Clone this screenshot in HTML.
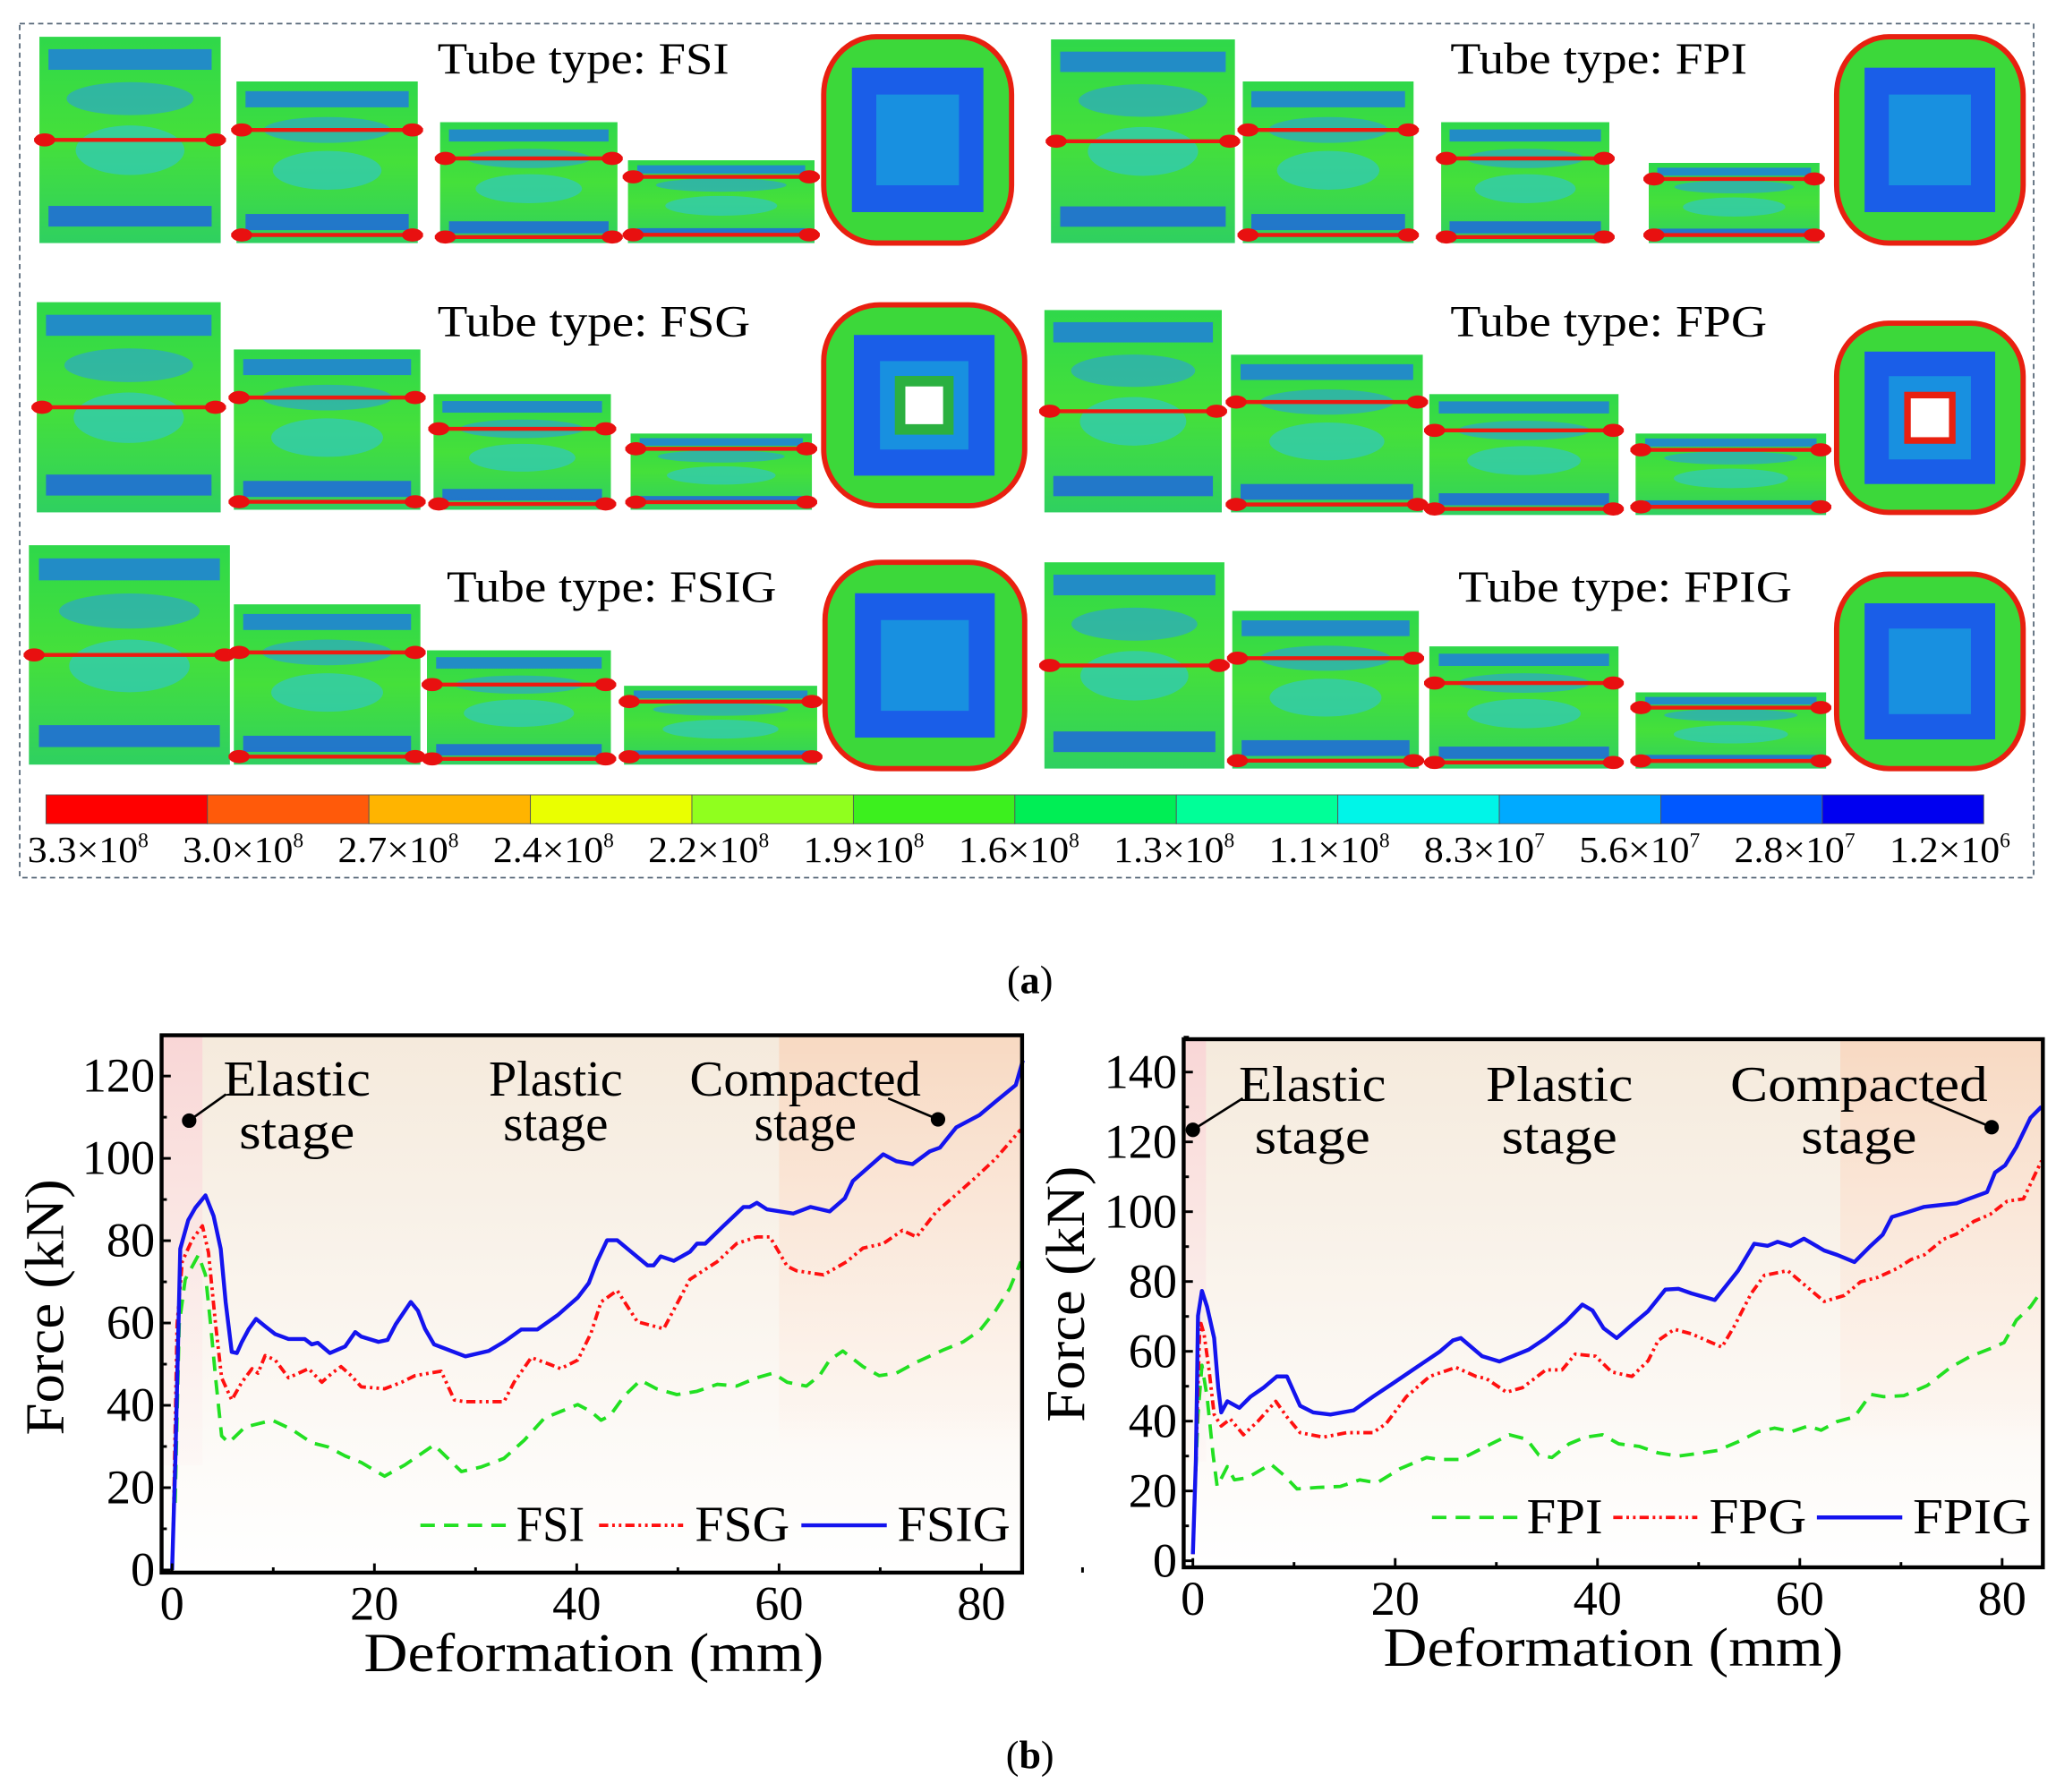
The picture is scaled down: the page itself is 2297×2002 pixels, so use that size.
<!DOCTYPE html>
<html><head><meta charset="utf-8"><style>
html,body{margin:0;padding:0;background:#fff;}
svg{display:block;}
text{font-family:"Liberation Serif",serif;}
</style></head><body>
<svg id="fig" width="2297" height="2002" viewBox="0 0 1565 1364" preserveAspectRatio="none" xmlns="http://www.w3.org/2000/svg">
<defs>
<linearGradient id="bgL" x1="0" y1="0" x2="0" y2="1"><stop offset="0" stop-color="#f5eadc"/><stop offset="1" stop-color="#ffffff"/></linearGradient>
<linearGradient id="compL" x1="0" y1="0" x2="0" y2="1"><stop offset="0" stop-color="#f8d9c2"/><stop offset="0.85" stop-color="#fdf3ec" stop-opacity="0.6"/><stop offset="1" stop-color="#ffffff" stop-opacity="0"/></linearGradient>
<linearGradient id="pinkL" x1="0" y1="0" x2="0" y2="1"><stop offset="0" stop-color="#f9d6d6"/><stop offset="1" stop-color="#fdf0f0" stop-opacity="0.3"/></linearGradient>
<linearGradient id="tubeG" x1="0" y1="0" x2="0" y2="1"><stop offset="0" stop-color="#2fd84a"/><stop offset="0.5" stop-color="#45e03a"/><stop offset="1" stop-color="#2fd060"/></linearGradient>
</defs>
<rect x="15" y="18" width="1533" height="650" fill="none" stroke="#556677" stroke-width="1.2" stroke-dasharray="4,3"/>
<g id="tubes"></g>
<g id="titles">
<text x="333" y="56" font-size="34" textLength="222" lengthAdjust="spacingAndGlyphs">Tube type: FSI</text>
<text x="1104" y="56" font-size="34" textLength="226" lengthAdjust="spacingAndGlyphs">Tube type: FPI</text>
<text x="333" y="256" font-size="34" textLength="238" lengthAdjust="spacingAndGlyphs">Tube type: FSG</text>
<text x="1104" y="256" font-size="34" textLength="241" lengthAdjust="spacingAndGlyphs">Tube type: FPG</text>
<text x="340" y="458" font-size="34" textLength="251" lengthAdjust="spacingAndGlyphs">Tube type: FSIG</text>
<text x="1110" y="458" font-size="34" textLength="254" lengthAdjust="spacingAndGlyphs">Tube type: FPIG</text>
</g>
<g id="cbar"></g>
<text x="784" y="756" font-size="30" text-anchor="middle">(<tspan font-weight="bold">a</tspan>)</text>
<text x="784" y="1346" font-size="30" text-anchor="middle">(<tspan font-weight="bold">b</tspan>)</text>
<g id="chartL"></g>
<g id="chartR"></g>
</svg>
<script>
// ---------------- Chart data ----------------
const xTicks = [0, 20, 40, 60, 80];
const yTicksL = [0, 20, 40, 60, 80, 100, 120];
const yTicksR = [0, 20, 40, 60, 80, 100, 120, 140];
const seriesNamesL = ["FSI", "FSG", "FSIG"];
const seriesNamesR = ["FPI", "FPG", "FPIG"];

const fsiX = [0.3,0.7,1.3,2.6,3.3,3.8,4.3,4.9,5.6,7.2,9.9,11.8,13.8,15.4,17.1,18.7,21.0,23.0,25.9,28.6,30.5,32.8,34.8,36.8,38.4,40.1,41.4,42.4,43.3,44.7,46.3,47.9,49.9,51.9,53.9,55.8,57.8,59.4,60.8,62.7,64.0,65.0,66.3,68.3,69.9,71.6,73.6,76.2,78.2,79.8,81.4,82.8,83.9];
const fsiY = [16.3,59.7,70.6,76.5,71.7,59.7,46.7,32.6,30.9,34.7,36.4,34.2,30.9,29.9,27.7,26.1,22.8,25.5,30.4,23.9,25,27.1,31.5,36.9,38.5,40.2,38.5,36.4,37.5,42.3,46.1,44,42.6,43.4,45.1,44.7,46.7,47.8,45.6,44.7,47.2,51,53.2,49.4,47.2,47.8,50.5,53.4,55.4,58.1,63,68.4,74.9];
const fsgX = [0.1,0.5,1.0,2.0,3.0,3.6,4.3,4.9,5.9,6.9,7.9,8.5,9.2,10.2,11.5,13.5,14.8,15.8,16.7,17.7,18.7,21.0,22.7,24.0,26.6,27.9,28.9,32.8,33.8,35.5,37.4,38.4,40.1,41.4,42.4,44.0,46.0,48.6,51.2,52.5,53.9,55.8,57.8,59.1,60.8,61.7,64.4,66.7,68.3,70.3,72.2,73.6,75.5,77.5,79.5,81.4,83.9];
const fsgY = [7.6,59.7,74.9,80.3,83.6,77.1,59.7,46.7,41.3,45.6,48.9,47.8,52.1,51,46.7,48.9,45.6,47.8,49.4,47.2,44.5,44,45.6,47.2,48.3,41.3,40.9,40.9,45.6,51.6,49.9,48.9,51,57.5,65.1,67.9,60.3,58.6,70.6,72.7,74.9,79.3,80.9,80.9,73.8,72.7,71.7,74.9,78.2,79.3,82.5,80.9,86.9,91.2,95.5,99.9,107];
const fsigX = [0,0.33,0.8,1.6,2.3,3.3,4.1,4.8,5.3,5.9,6.4,6.9,7.6,8.3,9.2,10.2,11.5,13.1,13.8,14.4,15.6,17.1,18.1,18.7,20.4,21.3,22.1,23.6,24.3,25.0,25.9,27.6,29.0,31.3,32.8,34.5,36.1,38.1,40.1,41.2,42.0,43.0,44.0,47.0,47.6,48.3,49.6,51.2,51.9,52.7,54.5,56.5,57.1,57.8,58.8,61.4,63.1,65.0,66.5,67.3,70.3,71.6,73.2,74.9,75.9,77.5,79.8,81.4,83.4,84.1];
const fsigY = [0,27,78,85,88,91,86,78,65,53,52.7,55.4,58.6,61,59.2,57.3,56.1,56.1,54.8,55.2,52.7,54.3,57.8,56.7,55.4,55.9,59.7,65.1,63,58.6,54.8,53.2,51.9,53.2,55.4,58.4,58.4,61.9,66.2,69.7,74.9,80.1,80.1,74,74,76.2,75.1,77.3,79.3,79.3,83.6,88.2,88.2,89.2,87.6,86.6,88.2,87.1,90.3,94.5,101,99.3,98.6,101.7,102.6,107.5,110.5,113.8,117.8,123.8];

const fpiX = [0.1,0.5,0.9,1.4,2.0,2.4,3.4,4.1,5.4,7.7,9.0,10.3,12.3,14.6,16.5,18.2,20.5,23.1,24.4,26.4,29.0,31.3,33.0,34.2,35.5,37.2,38.8,40.5,42.1,44.1,46.0,48.0,50.3,51.9,53.9,55.9,57.5,59.2,60.8,62.1,63.7,65.4,67.0,68.3,70.3,72.6,74.9,76.9,79.2,80.2,81.4,82.8,83.9];
const fpiY = [12.2,41.9,56,47,30.3,21.3,27,23.2,23.8,27.7,24.5,20.6,21,21.3,23.2,22.3,26.4,29.6,29,29,32.8,36.1,34.8,30.3,29.6,33.5,35.4,36.1,33.5,32.8,30.9,30,30.9,31.6,34.1,37,38,37,38.6,37.4,39.9,41.2,47.7,47,47.3,50.2,55.4,58.6,61.2,62.5,68.9,72.8,77.3];
const fpgX = [0,0.3,0.7,1.1,1.6,2.1,2.8,3.7,5.0,6.4,8.2,9.3,10.6,12.9,15.2,17.8,19.1,21.1,23.4,26.0,28.0,29.0,31.0,32.6,34.9,36.5,37.8,39.8,41.4,43.4,45.0,46.0,47.6,49.3,52.3,53.6,55.2,56.5,58.8,60.4,62.4,64.4,66.0,67.7,69.6,71.0,72.3,74.2,75.5,77.2,78.8,80.5,82.1,83.9];
const fpgY = [1.9,29,68.9,65,54.7,41.9,38.6,40.6,36.1,39.9,45.7,41.2,36.7,35.4,36.7,36.7,39.3,47,52.8,55.4,52.8,52.2,48.3,49.6,54.7,54.7,59.2,58.6,54.1,52.8,57.3,63.1,66.3,65,61.2,67.6,76.6,81.8,83.1,79.2,74.3,76,79.9,81.2,83.7,86.3,87.6,92.1,93.6,97.2,99.2,103,103.7,114.6];
const fpigX = [0,0.3,0.5,0.9,1.4,2.1,2.5,2.8,3.4,4.6,5.7,7.0,8.3,9.3,10.6,11.9,13.6,15.9,17.8,19.8,22.4,24.4,25.7,26.5,27.3,28.6,30.3,31.6,33.2,34.9,36.8,38.5,39.5,40.6,41.9,43.4,45.0,46.7,48.0,49.3,51.6,53.9,55.5,56.8,57.8,59.1,60.4,62.4,63.7,65.4,67.0,68.2,69.1,70.6,72.3,75.5,78.5,79.3,80.3,81.4,82.8,83.9];
const fpigY = [1.9,29,70.2,77.3,72.8,63.8,49.6,42.5,45.7,43.8,47,49.6,52.8,52.8,44.4,42.5,41.9,43.1,47,50.9,56,59.9,63.1,63.8,61.8,58.6,57.1,58.6,60.5,63.8,68.3,73.4,71.7,66.6,63.8,67.6,71.5,77.7,77.9,76.6,74.7,83.1,90.8,90.2,91.4,90.2,92.3,88.9,87.6,85.6,90.2,93.4,98.5,99.8,101.4,102.4,105.6,111.2,113.3,118.5,126.9,130.1];

const cbarLabels = [["3.3","8"],["3.0","8"],["2.7","8"],["2.4","8"],["2.2","8"],["1.9","8"],["1.6","8"],["1.3","8"],["1.1","8"],["8.3","7"],["5.6","7"],["2.8","7"],["1.2","6"]];
const cbarColors = ["#ff0000","#ff5a0a","#ffb400","#eaff00","#90ff1e","#3cf01e","#00ee55","#00ff98","#00f5e8","#00aaff","#0058ff","#0000f0"];

const NS = "http://www.w3.org/2000/svg";
function mk(tag, attrs, parent){ const e=document.createElementNS(NS,tag); for(const k in attrs) e.setAttribute(k,attrs[k]); if(parent) parent.appendChild(e); return e; }

// ---------------- Colorbar ----------------
(function(){
  const g=document.getElementById('cbar');
  const x0=35,x1=1510,y0=605,h=22, w=(x1-x0)/cbarColors.length;
  cbarColors.forEach((c,i)=>{
    const r=mk('rect',{x:x0+i*w,y:y0,width:w,height:h,fill:c,stroke:'#555','stroke-width':0.6},g);
    
    
  });
  cbarLabels.forEach((l,i)=>{
    const cx=68+i*118.1;
    const t=mk('text',{x:cx-47,y:656,'font-size':28},g);
    t.innerHTML='<tspan textLength="84" lengthAdjust="spacingAndGlyphs">'+l[0]+'×10</tspan><tspan font-size="16" dy="-11">'+l[1]+'</tspan>';
    
    
  });
})();

// ---------------- Tubes ----------------
(function(){
  const g=document.getElementById('tubes');
  const side=[
    [30,28,138,157],[180,62,138,123],[335,93,135,92],[478,122,142,63],
    [800,30,140,155],[946,62,130,123],[1097,93,128,92],[1255,124,130,61],
    [28,230,140,160],[178,266,142,122],[330,300,135,88],[480,330,138,58],
    [795,236,135,154],[937,270,146,120],[1088,300,144,92],[1245,330,145,62],
    [22,415,153,167],[178,460,142,122],[325,495,140,87],[475,522,147,60],
    [795,428,137,157],[938,465,142,120],[1088,492,144,93],[1245,527,145,58]];
  side.forEach((s,i)=>{
    const [x,y,w,h]=s;
    const t=mk('g',{},g);
    
    
    mk('rect',{x:x,y:y,width:w,height:h,fill:'url(#tubeG)'},t);
    mk('rect',{x:x+w*0.05,y:y+h*0.06,width:w*0.9,height:h*0.1,fill:'#1e78e6',opacity:0.8},t);
    mk('rect',{x:x+w*0.05,y:y+h*0.82,width:w*0.9,height:h*0.1,fill:'#1e60e6',opacity:0.8},t);
    mk('ellipse',{cx:x+w/2,cy:y+h*0.55,rx:w*0.3,ry:h*0.12,fill:'#30c8c0',opacity:0.7},t);
    mk('ellipse',{cx:x+w/2,cy:y+h*0.3,rx:w*0.35,ry:h*0.08,fill:'#2a9ee0',opacity:0.6},t);
    const fold = (i%4===0)? [0.5] : (i%4===3 ? [0.2,0.9] : [0.3,0.95]);
    fold.forEach(f=>{ mk('line',{x1:x-4,x2:x+w+4,y1:y+h*f,y2:y+h*f,stroke:'#ee1a10','stroke-width':3},t);
      mk('ellipse',{cx:x+4,cy:y+h*f,rx:8,ry:5,fill:'#e81010'},t);
      mk('ellipse',{cx:x+w-4,cy:y+h*f,rx:8,ry:5,fill:'#e81010'},t); });
  });
  const top=[[627,28,143,157,0],[1398,28,142,157,0],[627,232,153,153,1],[1398,246,142,144,2],[628,428,152,157,0],[1398,437,142,148,0]];
  top.forEach(s=>{
    const [x,y,w,h,hole]=s;
    const t=mk('g',{},g);
    
    
    mk('rect',{x:x,y:y,width:w,height:h,rx:w*0.28,ry:h*0.28,fill:'#3cd83a',stroke:'#e82010','stroke-width':4},t);
    mk('rect',{x:x+w*0.15,y:y+h*0.15,width:w*0.7,height:h*0.7,fill:'#1a5ee8'},t);
    mk('rect',{x:x+w*0.28,y:y+h*0.28,width:w*0.44,height:h*0.44,fill:'#1890e0'},t);
    if(hole){ mk('rect',{x:x+w*0.38,y:y+h*0.38,width:w*0.24,height:h*0.24,fill:'#fff',stroke:hole===2?'#e82010':'#2bb040','stroke-width':hole===2?5:8},t); }
  });
})();

// ---------------- Charts ----------------
function chart(gid, box, x0px, pxPerMm, y0px, pxPerKN, yTicks, names, xs, ys, bands, ann, leg, ylab, xlab){
  const g=document.getElementById(gid);
  const X=v=>x0px+v*pxPerMm, Y=v=>y0px-v*pxPerKN;
  const [L,T,R,B]=box;
  const bg=mk('rect',{x:L,y:T,width:R-L,height:B-T,fill:'url(#bgL)'},g);
   
  const pk=mk('rect',{x:L,y:T,width:X(bands[0])-L,height:(B-T)*0.8,fill:'url(#pinkL)'},g);
   
  const cp=mk('rect',{x:X(bands[1]),y:T,width:R-X(bands[1]),height:(B-T)*0.83,fill:'url(#compL)'},g);
   
  const styles=[{c:'#22e022',d:'11,7',w:2.6},{c:'#ff1010',d:'7,3,2,3,2,3',w:2.6},{c:'#1414ee',d:'',w:3}];
  xs.forEach((arr,si)=>{
    const pts=arr.map((v,i)=>X(v).toFixed(1)+','+Y(ys[si][i]).toFixed(1)).join(' ');
    const p=mk('polyline',{points:pts,fill:'none',stroke:styles[si].c,'stroke-width':styles[si].w,'stroke-dasharray':styles[si].d,'stroke-linejoin':'round'},g);
    
    
  });
  const fr=mk('rect',{x:L,y:T,width:R-L,height:B-T,fill:'none',stroke:'#000','stroke-width':3},g);
   
  xTicks.forEach(v=>{
    mk('line',{x1:X(v),x2:X(v),y1:B,y2:B-7,stroke:'#000','stroke-width':2},g);
    mk('line',{x1:X(v+10),x2:X(v+10),y1:B,y2:B-4,stroke:'#000','stroke-width':2},g);
    const t=mk('text',{x:X(v),y:B+36,'font-size':37,'text-anchor':'middle'},g); t.textContent=v;
     
  });
  yTicks.forEach(v=>{
    mk('line',{x1:L,x2:L+7,y1:Y(v),y2:Y(v),stroke:'#000','stroke-width':2},g);
    mk('line',{x1:L,x2:L+4,y1:Y(v+10),y2:Y(v+10),stroke:'#000','stroke-width':2},g);
    const t=mk('text',{x:L-5,y:Y(v)+12,'font-size':37,'text-anchor':'end'},g); t.textContent=v;
     
  });
  const yt=mk('text',{x:0,y:0,'font-size':42,'text-anchor':'middle',textLength:195,lengthAdjust:'spacingAndGlyphs',transform:`translate(${ylab[0]},${ylab[1]}) rotate(-90)`},g);
  yt.textContent='Force (kN)';  
  const xt=mk('text',{x:xlab[0],y:xlab[1],'font-size':42,'text-anchor':'middle',textLength:350,lengthAdjust:'spacingAndGlyphs'},g);
  xt.textContent='Deformation (mm)';  
  ann.texts.forEach(a=>{
    const t=mk('text',{x:a[0],y:a[1],'font-size':38,'text-anchor':'middle',textLength:a[3],lengthAdjust:'spacingAndGlyphs'},g); t.textContent=a[2];
     
  });
  ann.dots.forEach(d=>{
    mk('line',{x1:d[0],y1:d[1],x2:d[2],y2:d[3],stroke:'#000','stroke-width':1.8},g);
    const c=mk('circle',{cx:d[0],cy:d[1],r:5.5,fill:'#000'},g);
     
  });
  leg.forEach((l,si)=>{
    const ln=mk('line',{x1:l[0],x2:l[1],y1:l[3]-12,y2:l[3]-12,stroke:styles[si].c,'stroke-width':styles[si].w,'stroke-dasharray':styles[si].d},g);
     
    const t=mk('text',{x:l[2],y:l[3],'font-size':38,textLength:l[4],lengthAdjust:'spacingAndGlyphs'},g); t.textContent=names[si];
     
  });
}
chart('chartL',[123,788,778,1197],131,7.7,1195,3.133,yTicksL,seriesNamesL,[fsiX,fsgX,fsigX],[fsiY,fsgY,fsigY],[3,60],
 {texts:[[226,834,'Elastic',112],[226,874,'stage',88],[423,834,'Plastic',102],[423,868,'stage',80],[613,834,'Compacted',176],[613,868,'stage',78]],
  dots:[[144,853,172,833],[714,852,676,836]]},
 [[320,385,393,1173,52],[456,520,529,1173,72],[610,675,683,1173,86]],[48,995],[452,1272]);
chart('chartR',[901,791,1555,1193],908,7.7,1188,2.657,yTicksR,seriesNamesR,[fpiX,fpgX,fpigX],[fpiY,fpgY,fpigY],[1.3,64],
 {texts:[[999,838,'Elastic',112],[999,878,'stage',88],[1187,838,'Plastic',112],[1187,878,'stage',88],[1415,838,'Compacted',196],[1415,878,'stage',88]],
  dots:[[908,860,946,836],[1516,858,1468,838]]},
 [[1090,1155,1162,1167,58],[1228,1292,1301,1167,74],[1383,1448,1456,1167,90]],[825,985],[1228,1268]);
</script>
</body></html>
